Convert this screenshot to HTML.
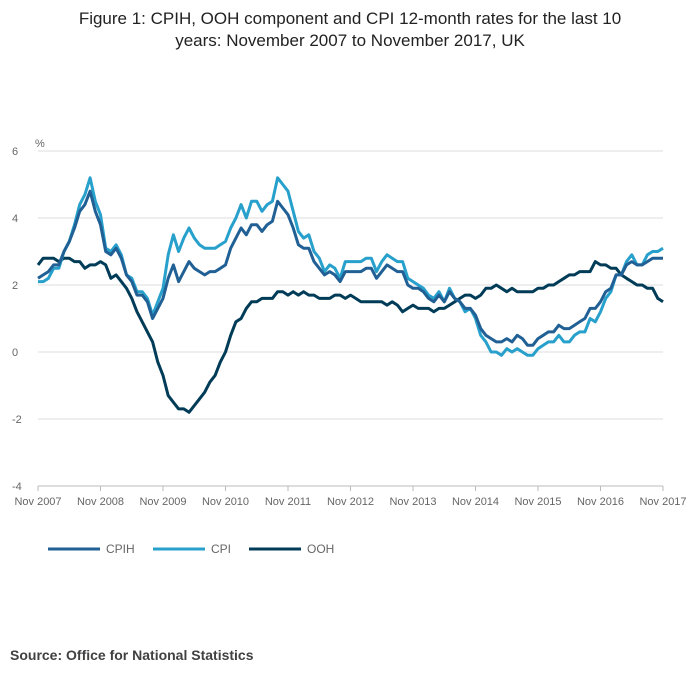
<!DOCTYPE html>
<html><head><meta charset="utf-8"><style>
body{margin:0;background:#fff;font-family:"Liberation Sans",sans-serif;}
svg text{font-family:"Liberation Sans",sans-serif;}
</style></head><body>
<svg id="c" width="700" height="682">
<text x="350" y="24" text-anchor="middle" font-size="17" fill="#222">Figure 1: CPIH, OOH component and CPI 12-month rates for the last 10</text>
<text x="350" y="46" text-anchor="middle" font-size="17" fill="#222">years: November 2007 to November 2017, UK</text>
<text x="35" y="147" font-size="11" fill="#666">%</text>
<g id="grid"></g><g id="lines"></g><g id="xt"></g>
<g>
<g><line x1="48" y1="549" x2="100" y2="549" stroke="#206095" stroke-width="3"/><text x="106" y="553" font-size="12" fill="#666">CPIH</text></g>
<g><line x1="153" y1="549" x2="205" y2="549" stroke="#27a0cc" stroke-width="3"/><text x="211" y="553" font-size="12" fill="#666">CPI</text></g>
<g><line x1="249" y1="549" x2="301" y2="549" stroke="#003c57" stroke-width="3"/><text x="307" y="553" font-size="12" fill="#666">OOH</text></g>
</g>
<text x="10" y="660" font-size="14" font-weight="bold" fill="#414042">Source: Office for National Statistics</text>
</svg>
<script>
const xTickLabels=["Nov 2007","Nov 2008","Nov 2009","Nov 2010","Nov 2011","Nov 2012","Nov 2013","Nov 2014","Nov 2015","Nov 2016","Nov 2017"];
const yTicks=[6,4,2,0,-2,-4];
const cpi=[2.1,2.1,2.2,2.5,2.5,3.0,3.3,3.8,4.4,4.7,5.2,4.5,4.1,3.1,3.0,3.2,2.9,2.3,2.2,1.8,1.8,1.6,1.1,1.5,1.9,2.9,3.5,3.0,3.4,3.7,3.4,3.2,3.1,3.1,3.1,3.2,3.3,3.7,4.0,4.4,4.0,4.5,4.5,4.2,4.4,4.5,5.2,5.0,4.8,4.2,3.6,3.4,3.5,3.0,2.8,2.4,2.6,2.5,2.2,2.7,2.7,2.7,2.7,2.8,2.8,2.4,2.7,2.9,2.8,2.7,2.7,2.2,2.1,2.0,1.9,1.7,1.6,1.8,1.5,1.9,1.6,1.5,1.2,1.3,1.0,0.5,0.3,0.0,0.0,-0.1,0.1,0.0,0.1,0.0,-0.1,-0.1,0.1,0.2,0.3,0.3,0.5,0.3,0.3,0.5,0.6,0.6,1.0,0.9,1.2,1.6,1.8,2.3,2.3,2.7,2.9,2.6,2.6,2.9,3.0,3.0,3.1];
const cpih=[2.2,2.3,2.4,2.6,2.6,3.0,3.3,3.7,4.2,4.4,4.8,4.2,3.8,3.0,2.9,3.1,2.8,2.3,2.1,1.7,1.7,1.5,1.0,1.3,1.6,2.2,2.6,2.1,2.4,2.7,2.5,2.4,2.3,2.4,2.4,2.5,2.6,3.1,3.4,3.7,3.5,3.8,3.8,3.6,3.8,3.9,4.5,4.3,4.1,3.7,3.2,3.1,3.1,2.7,2.5,2.3,2.4,2.3,2.1,2.4,2.4,2.4,2.4,2.5,2.5,2.2,2.4,2.6,2.5,2.4,2.4,2.0,1.9,1.9,1.8,1.6,1.5,1.7,1.5,1.8,1.6,1.5,1.3,1.3,1.1,0.7,0.5,0.4,0.3,0.3,0.4,0.3,0.5,0.4,0.2,0.2,0.4,0.5,0.6,0.6,0.8,0.7,0.7,0.8,0.9,1.0,1.3,1.3,1.5,1.8,1.9,2.3,2.3,2.6,2.7,2.6,2.6,2.7,2.8,2.8,2.8];
const ooh=[2.6,2.8,2.8,2.8,2.7,2.8,2.8,2.7,2.7,2.5,2.6,2.6,2.7,2.6,2.2,2.3,2.1,1.9,1.6,1.2,0.9,0.6,0.3,-0.3,-0.7,-1.3,-1.5,-1.7,-1.7,-1.8,-1.6,-1.4,-1.2,-0.9,-0.7,-0.3,0.0,0.5,0.9,1.0,1.3,1.5,1.5,1.6,1.6,1.6,1.8,1.8,1.7,1.8,1.7,1.8,1.7,1.7,1.6,1.6,1.6,1.7,1.7,1.6,1.7,1.6,1.5,1.5,1.5,1.5,1.5,1.4,1.5,1.4,1.2,1.3,1.4,1.3,1.3,1.3,1.2,1.3,1.3,1.4,1.5,1.6,1.7,1.7,1.6,1.7,1.9,1.9,2.0,1.9,1.8,1.9,1.8,1.8,1.8,1.8,1.9,1.9,2.0,2.0,2.1,2.2,2.3,2.3,2.4,2.4,2.4,2.7,2.6,2.6,2.5,2.5,2.3,2.2,2.1,2.0,2.0,1.9,1.9,1.6,1.5];
const X0=38,X1=663,N=120;
const x=i=>X0+(X1-X0)*i/N;
const y=v=>151+(6-v)*(486-151)/10;
const NS="http://www.w3.org/2000/svg";
const grid=document.getElementById('grid');
yTicks.forEach(t=>{
  const l=document.createElementNS(NS,'line');
  l.setAttribute('x1',X0);l.setAttribute('x2',X1);l.setAttribute('y1',y(t));l.setAttribute('y2',y(t));
  l.setAttribute('stroke',t===-4?'#bbb':'#ddd');l.setAttribute('stroke-width','1');
  
  
  grid.appendChild(l);
  const tx=document.createElementNS(NS,'text');
  tx.setAttribute('x',12);tx.setAttribute('y',y(t)+4);tx.setAttribute('font-size','11');tx.setAttribute('fill','#666');
  tx.textContent=t;
  
  
  grid.appendChild(tx);
});
const xt=document.getElementById('xt');
xTickLabels.forEach((s,k)=>{
  const tx=document.createElementNS(NS,'text');
  tx.setAttribute('x',x(k*12));tx.setAttribute('y',505);tx.setAttribute('font-size','11');tx.setAttribute('fill','#666');tx.setAttribute('text-anchor','middle');
  tx.textContent=s;
  
  
  xt.appendChild(tx);
  const tk=document.createElementNS(NS,'line');
  tk.setAttribute('x1',x(k*12));tk.setAttribute('x2',x(k*12));tk.setAttribute('y1',486);tk.setAttribute('y2',491);tk.setAttribute('stroke','#bbb');
  
  
  xt.appendChild(tk);
});
const lines=document.getElementById('lines');
[[ooh,'#003c57','ooh-line'],[cpi,'#27a0cc','cpi-line'],[cpih,'#206095','cpih-line']].forEach(([d,c,n])=>{
  const p=document.createElementNS(NS,'polyline');
  p.setAttribute('points',d.map((v,i)=>x(i).toFixed(1)+','+y(v).toFixed(1)).join(' '));
  p.setAttribute('fill','none');p.setAttribute('stroke',c);p.setAttribute('stroke-width','3');p.setAttribute('stroke-linejoin','round');
  
  
  lines.appendChild(p);
});
</script>
</body></html>
